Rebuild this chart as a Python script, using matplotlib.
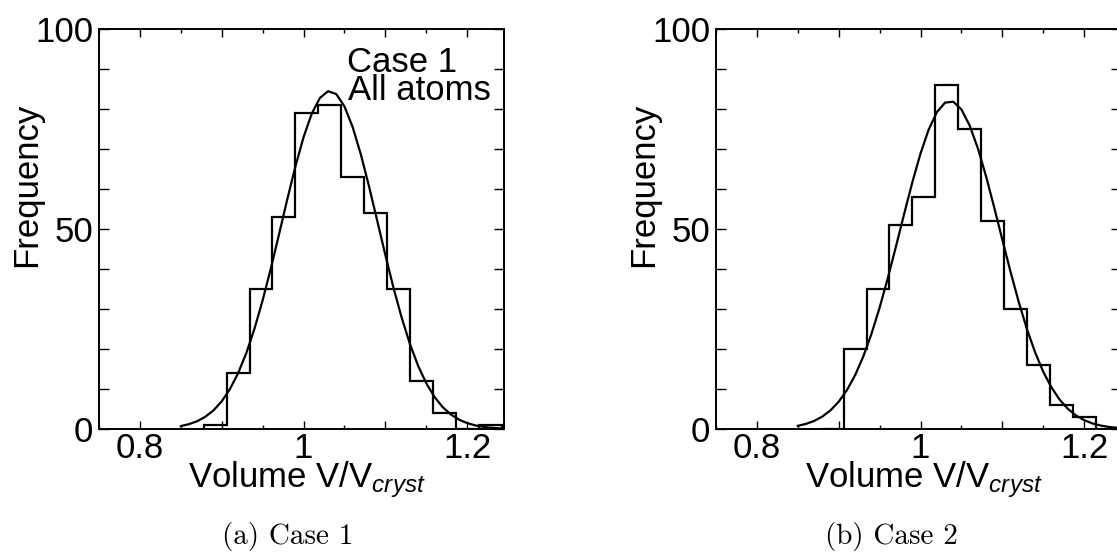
import numpy as np
import matplotlib
matplotlib.use("Agg")
import matplotlib.pyplot as plt
from matplotlib.ticker import MultipleLocator, FuncFormatter

plt.rcParams['font.family'] = 'Liberation Sans'
plt.rcParams['mathtext.fontset'] = 'custom'
plt.rcParams['mathtext.rm'] = 'Liberation Sans'
plt.rcParams['mathtext.it'] = 'Liberation Sans:italic'

# histogram bins (V/V_cryst)
bin_edges = [0.878, 0.906, 0.934, 0.962, 0.990, 1.018, 1.046,
             1.074, 1.102, 1.130, 1.158, 1.186, 1.214, 1.242]
counts_case1 = [1, 14, 35, 53, 79, 81, 63, 54, 35, 12, 4, 0, 1]
counts_case2 = [0, 20, 35, 51, 58, 86, 75, 52, 30, 16, 6, 3, 0]

# fitted gaussian, sampled every 0.01 from 0.85 to 1.25
fit_x = [0.85, 0.86, 0.87, 0.88, 0.89, 0.90, 0.91, 0.92, 0.93, 0.94,
         0.95, 0.96, 0.97, 0.98, 0.99, 1.00, 1.01, 1.02, 1.03, 1.04,
         1.05, 1.06, 1.07, 1.08, 1.09, 1.10, 1.11, 1.12, 1.13, 1.14,
         1.15, 1.16, 1.17, 1.18, 1.19, 1.20, 1.21, 1.22, 1.23, 1.24, 1.25]
fit_case1 = [0.73, 1.21, 1.95, 3.06, 4.67, 6.92, 9.97, 13.94, 18.96, 25.05,
             32.17, 40.13, 48.65, 57.31, 65.59, 72.94, 78.83, 82.77, 84.45, 83.73,
             80.66, 75.50, 68.67, 60.69, 52.12, 43.49, 35.26, 27.78, 21.27, 15.82,
             11.44, 8.03, 5.48, 3.64, 2.34, 1.47, 0.89, 0.53, 0.30, 0.17, 0.09]
fit_case2 = [0.79, 1.28, 2.02, 3.12, 4.68, 6.83, 9.71, 13.44, 18.12, 23.77,
             30.35, 37.73, 45.67, 53.80, 61.71, 68.89, 74.88, 79.23, 81.60, 81.82,
             79.87, 75.89, 70.20, 63.22, 55.42, 47.29, 39.29, 31.77, 25.01, 19.17,
             14.30, 10.39, 7.34, 5.05, 3.39, 2.21, 1.40, 0.87, 0.52, 0.31, 0.17]

panels = [
    ("Case 1", counts_case1, fit_case1, "(a) Case 1"),
    ("Case 2", counts_case2, fit_case2, "(b) Case 2"),
]

W, H = 1117, 552
fig = plt.figure(figsize=(W / 100, H / 100), dpi=100)


def xfmt(v, pos):
    v = round(v, 3)
    if abs(v * 5 - round(v * 5)) < 1e-6:
        return f"{v:g}"
    return ""


def yfmt(v, pos):
    v = round(v)
    return f"{v:d}" if v % 50 == 0 else ""


for i, (name, counts, fit, caption) in enumerate(panels):
    dx = 617 * i
    ax = fig.add_axes([(99 + dx) / W, 123 / H, 405 / W, 400 / H])
    ax.stairs(counts, bin_edges, baseline=0, color='black', lw=1.6)
    ax.plot(fit_x, fit, color='black', lw=1.6)

    ax.set_xlim(0.75, 1.245)
    ax.set_ylim(0, 100)
    ax.xaxis.set_major_locator(MultipleLocator(0.1))
    ax.xaxis.set_minor_locator(MultipleLocator(0.05))
    ax.xaxis.set_major_formatter(FuncFormatter(xfmt))
    ax.yaxis.set_major_locator(MultipleLocator(10))
    ax.yaxis.set_major_formatter(FuncFormatter(yfmt))
    ax.tick_params(which='both', direction='in', top=True, right=True,
                   width=1.0, labelsize=25)
    ax.tick_params(axis='x', which='major', length=6, pad=2)
    ax.tick_params(axis='x', which='minor', length=2.8)
    ax.tick_params(axis='y', which='major', length=7, pad=4)
    for s in ax.spines.values():
        s.set_linewidth(1.4)

    ax.text((347 + dx - 99) / 405, (429 - 72) / 400, name, transform=ax.transAxes,
            fontsize=25, va='baseline', ha='left')
    ax.text((348 + dx - 99) / 405, (429 - 100) / 400, "All atoms", transform=ax.transAxes,
            fontsize=25, va='baseline', ha='left')

    fig.text((27 + dx) / W, 1 - 185 / H, "Frequency", rotation=90,
             ha='center', va='center', fontsize=25)
    fig.text((188 + dx) / W, 1 - 487 / H, r"Volume V/V$_{cryst}$",
             ha='left', va='baseline', fontsize=25)
    fig.text((288 + 603 * i) / W, 1 - 544 / H, caption, family='cmr10',
             ha='center', va='baseline', fontsize=21)

fig.savefig("out.png", dpi=100)
